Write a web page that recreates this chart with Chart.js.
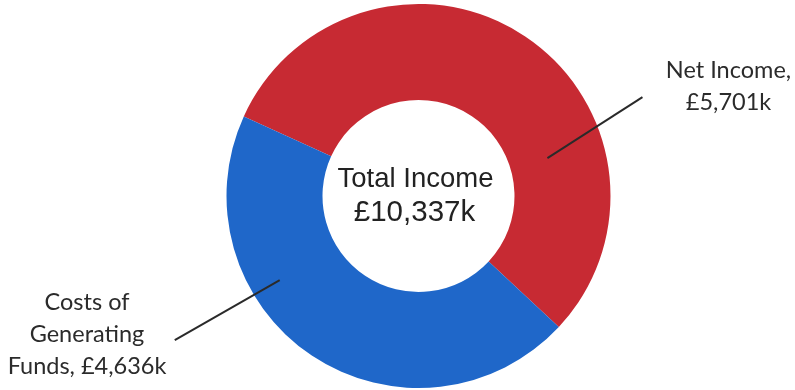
<!DOCTYPE html>
<html>
<head>
<meta charset="utf-8">
<script src="https://cdn.jsdelivr.net/npm/chart.js@4/dist/chart.umd.min.js"></script>
<style>
html,body{margin:0;padding:0;background:#fff;}
#wrap{position:relative;width:795px;height:390px;}
</style>
</head>
<body>
<div id="wrap"><canvas id="c" width="795" height="390"></canvas></div>
<script>
const categories = ["Net Income", "Costs of Generating Funds"];
const values = [5701, 4636];
const labelLines = [["Net Income,", "£5,701k"], ["Costs of", "Generating", "Funds, £4,636k"]];
const centerLines = ["Total Income", "£10,337k"];
const colors = ["#C72A33", "#1F67C9"];

const overlay = {
  id: 'overlay',
  afterDatasetsDraw(chart) {
    const ctx = chart.ctx;
    const arc = chart.getDatasetMeta(0).data[0];
    const cx = arc.x, cy = arc.y, R = arc.outerRadius;
    const leaders = [
      {a1: 73.6, r1: 0.70, a2: 66.2, r2: 1.275},
      {a1: 238.8, r1: 0.845, a2: 239.4, r2: 1.475}
    ];
    ctx.save();
    ctx.strokeStyle = '#2a2a2a';
    ctx.lineWidth = 2;
    leaders.forEach(l => {
      const p = (a, r) => [cx + Math.sin(a * Math.PI / 180) * r * R, cy - Math.cos(a * Math.PI / 180) * r * R];
      const [x1, y1] = p(l.a1, l.r1), [x2, y2] = p(l.a2, l.r2);
      ctx.beginPath(); ctx.moveTo(x1, y1); ctx.lineTo(x2, y2); ctx.stroke();
    });
    ctx.fillStyle = '#222';
    ctx.textAlign = 'center';
    ctx.textBaseline = 'alphabetic';
    ctx.font = '27.5px "Liberation Sans", Arial, sans-serif';
    ctx.fillText(centerLines[0], cx - 3, 187);
    ctx.font = '29.5px "Liberation Sans", Arial, sans-serif';
    ctx.fillText(centerLines[1], cx - 4, 221);
    ctx.fillStyle = '#2b2b2b';
    ctx.font = '23.5px Lato, sans-serif';
    const lab = [{x: 728.5, y: 78}, {x: 87, y: 310}];
    labelLines.forEach((lines, i) => {
      lines.forEach((t, j) => ctx.fillText(t, lab[i].x, lab[i].y + j * 32));
    });
    ctx.restore();
  }
};

new Chart(document.getElementById('c'), {
  type: 'doughnut',
  data: {
    labels: categories,
    datasets: [{
      data: values,
      backgroundColor: colors,
      borderWidth: 0
    }]
  },
  options: {
    responsive: false,
    animation: false,
    rotation: -65.5,
    cutout: '50%',
    layout: {padding: {left: 42, right: 0, top: 4, bottom: 2}},
    plugins: {legend: {display: false}, tooltip: {enabled: false}}
  },
  plugins: [overlay]
});
</script>
</body>
</html>
